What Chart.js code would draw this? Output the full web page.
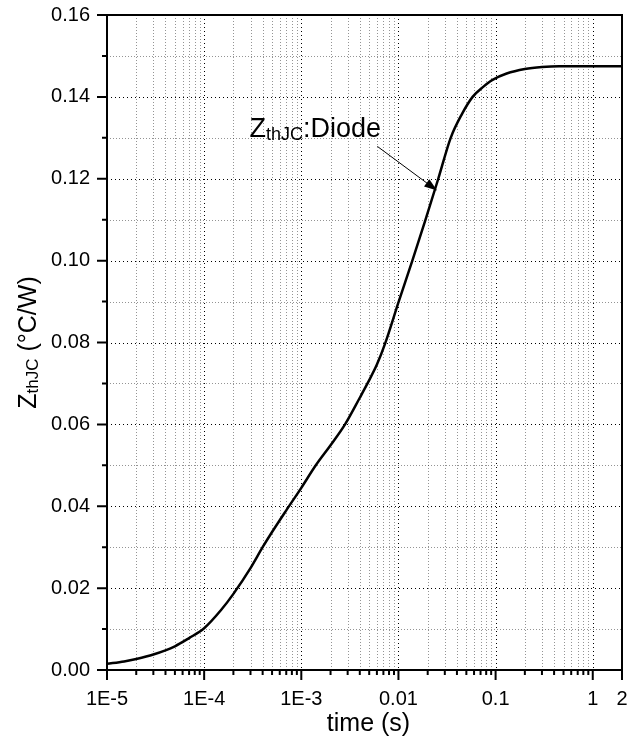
<!DOCTYPE html>
<html>
<head>
<meta charset="utf-8">
<script src="https://cdn.jsdelivr.net/npm/chart.js@4.4.1/dist/chart.umd.min.js"></script>
<style>
  html, body { margin: 0; padding: 0; background: #fff; }
  #wrap { width: 639px; height: 738px; }
</style>
</head>
<body>
<div id="wrap"><canvas id="zth-chart" width="639" height="738"></canvas></div>
<script>
// transient thermal impedance curve
const times = [1e-5, 1.5e-5, 2e-5, 3e-5, 5e-5, 7e-5, 1e-4, 1.5e-4, 2e-4, 3e-4, 4e-4, 5e-4, 7e-4,
  1e-3, 1.41e-3, 2e-3, 2.82e-3, 4e-3, 4.8e-3, 6e-3, 7.3e-3, 0.01, 0.0139, 0.019, 0.0257, 0.0345,
  0.045, 0.058, 0.075, 0.092, 0.13, 0.2, 0.3, 0.45, 1, 2];
const zthValues = [0.0015, 0.0021, 0.0027, 0.0038, 0.0058, 0.0078, 0.0102, 0.0147, 0.0186, 0.0249, 0.0300, 0.0337, 0.0390,
  0.0445, 0.0500, 0.0549, 0.0600, 0.0665, 0.0700, 0.0746, 0.0798, 0.0898, 0.1000, 0.1100, 0.1200, 0.1300,
  0.1358, 0.1400, 0.1425, 0.1441, 0.1457, 0.1468, 0.1473, 0.1475, 0.1475, 0.1475];

const xTickValues = [1e-5, 1e-4, 1e-3, 1e-2, 1e-1, 1, 2];
const xTickLabels = ['1E-5', '1E-4', '1E-3', '0.01', '0.1', '1', '2'];
const yTickValues = [0, 0.02, 0.04, 0.06, 0.08, 0.10, 0.12, 0.14, 0.16];
const yTickLabels = ['0.00', '0.02', '0.04', '0.06', '0.08', '0.10', '0.12', '0.14', '0.16'];
const yMinorValues = [0.01, 0.03, 0.05, 0.07, 0.09, 0.11, 0.13, 0.15];

// annotation: label anchor and arrow (data coordinates)
const noteLabelAt = [2.93e-4, 0.1303];
const noteArrowFrom = [6.07e-3, 0.1279];
const noteArrowTo = [0.025, 0.1171];

const xMinorValues = [];
for (let d = 1e-5; d < 1.5; d *= 10) {
  for (let k = 2; k <= 9; k++) {
    if (k * d < 2) xMinorValues.push(k * d);
  }
}

const FONT = '"Liberation Sans", Arial, sans-serif';

function drawRich(ctx, parts, x, y) {
  let cx = x;
  parts.forEach(p => {
    ctx.font = p.size + 'px ' + FONT;
    ctx.fillText(p.text, cx, y + (p.dy || 0));
    cx += ctx.measureText(p.text).width;
  });
  return cx - x;
}
function richWidth(ctx, parts) {
  let w = 0;
  parts.forEach(p => {
    ctx.font = p.size + 'px ' + FONT;
    w += ctx.measureText(p.text).width;
  });
  return w;
}

const frame = {
  id: 'frame',
  beforeDatasetsDraw(chart) {
    const { ctx, chartArea: a, scales: { x, y } } = chart;
    ctx.save();
    ctx.lineWidth = 1;
    // minor grid
    ctx.strokeStyle = 'rgba(0,0,0,0.42)';
    ctx.setLineDash([1, 2]);
    xMinorValues.forEach(v => {
      const px = Math.round(x.getPixelForValue(v)) + 0.5;
      ctx.beginPath(); ctx.moveTo(px, a.top); ctx.lineTo(px, a.bottom); ctx.stroke();
    });
    yMinorValues.forEach(v => {
      const py = Math.round(y.getPixelForValue(v)) + 0.5;
      ctx.beginPath(); ctx.moveTo(a.left, py); ctx.lineTo(a.right, py); ctx.stroke();
    });
    // major grid
    ctx.strokeStyle = '#000';
    ctx.setLineDash([1, 3]);
    xTickValues.slice(1, -1).forEach(v => {
      const px = Math.round(x.getPixelForValue(v)) + 0.5;
      ctx.beginPath(); ctx.moveTo(px, a.top); ctx.lineTo(px, a.bottom); ctx.stroke();
    });
    yTickValues.slice(1, -1).forEach(v => {
      const py = Math.round(y.getPixelForValue(v)) + 0.5;
      ctx.beginPath(); ctx.moveTo(a.left, py); ctx.lineTo(a.right, py); ctx.stroke();
    });
    ctx.restore();
  },
  afterDatasetsDraw(chart) {
    const { ctx, chartArea: a, scales: { x, y } } = chart;
    ctx.save();
    ctx.strokeStyle = '#000';
    ctx.lineWidth = 2;
    ctx.strokeRect(a.left, a.top, a.right - a.left, a.bottom - a.top);
    // outward ticks
    ctx.beginPath();
    xTickValues.forEach(v => {
      const px = x.getPixelForValue(v);
      ctx.moveTo(px, a.bottom); ctx.lineTo(px, a.bottom + 10);
    });
    xMinorValues.forEach(v => {
      const px = x.getPixelForValue(v);
      ctx.moveTo(px, a.bottom); ctx.lineTo(px, a.bottom + 5);
    });
    yTickValues.forEach(v => {
      const py = y.getPixelForValue(v);
      ctx.moveTo(a.left, py); ctx.lineTo(a.left - 10, py);
    });
    yMinorValues.forEach(v => {
      const py = y.getPixelForValue(v);
      ctx.moveTo(a.left, py); ctx.lineTo(a.left - 5, py);
    });
    ctx.stroke();

    // annotation arrow
    const x0 = x.getPixelForValue(noteArrowFrom[0]), y0 = y.getPixelForValue(noteArrowFrom[1]);
    const x1 = x.getPixelForValue(noteArrowTo[0]), y1 = y.getPixelForValue(noteArrowTo[1]);
    const ang = Math.atan2(y1 - y0, x1 - x0);
    ctx.lineWidth = 1;
    ctx.beginPath(); ctx.moveTo(x0, y0);
    ctx.lineTo(x1 - 10 * Math.cos(ang), y1 - 10 * Math.sin(ang)); ctx.stroke();
    ctx.fillStyle = '#000';
    ctx.beginPath();
    ctx.moveTo(x1, y1);
    ctx.lineTo(x1 - 13 * Math.cos(ang) + 4.5 * Math.sin(ang), y1 - 13 * Math.sin(ang) - 4.5 * Math.cos(ang));
    ctx.lineTo(x1 - 13 * Math.cos(ang) - 4.5 * Math.sin(ang), y1 - 13 * Math.sin(ang) + 4.5 * Math.cos(ang));
    ctx.closePath(); ctx.fill();

    // annotation label
    ctx.textBaseline = 'alphabetic';
    ctx.textAlign = 'left';
    drawRich(ctx, [
      { text: 'Z', size: 27 },
      { text: 'thJC', size: 18, dy: 3 },
      { text: ':Diode', size: 27 }
    ], x.getPixelForValue(noteLabelAt[0]), y.getPixelForValue(noteLabelAt[1]));

    // axis titles
    const xt = [{ text: 'time (s)', size: 25 }];
    drawRich(ctx, xt, (a.left + a.right) / 2 - richWidth(ctx, xt) / 2 + 4, 731);

    const yt = [
      { text: 'Z', size: 25 },
      { text: 'thJC', size: 17, dy: 2 },
      { text: ' (\u00B0C/W)', size: 25 }
    ];
    ctx.translate(36, (a.top + a.bottom) / 2);
    ctx.rotate(-Math.PI / 2);
    drawRich(ctx, yt, -richWidth(ctx, yt) / 2, 0);
    ctx.restore();
  }
};

new Chart(document.getElementById('zth-chart'), {
  type: 'line',
  data: {
    datasets: [{
      label: 'ZthJC:Diode',
      data: times.map((t, i) => ({ x: t, y: zthValues[i] })),
      borderColor: '#000',
      borderWidth: 2.5,
      pointRadius: 0,
      cubicInterpolationMode: 'monotone',
      fill: false
    }]
  },
  options: {
    responsive: false,
    animation: false,
    layout: { padding: { left: 0, right: 17, top: 15, bottom: 0 } },
    plugins: { legend: { display: false }, tooltip: { enabled: false } },
    scales: {
      x: {
        type: 'logarithmic',
        min: 1e-5,
        max: 2,
        afterBuildTicks: s => { s.ticks = xTickValues.map(v => ({ value: v, major: true })); },
        afterFit: s => { s.height = 68; s.paddingLeft = 0; s.paddingRight = 0; },
        grid: { display: false, drawTicks: false },
        border: { display: false },
        ticks: {
          autoSkip: false,
          maxRotation: 0,
          padding: 17,
          color: '#000',
          font: { family: FONT, size: 20 },
          callback: (v, i) => xTickLabels[i]
        }
      },
      y: {
        min: 0,
        max: 0.16,
        afterBuildTicks: s => { s.ticks = yTickValues.map(v => ({ value: v })); },
        afterFit: s => { s.width = 107; s.paddingTop = 0; s.paddingBottom = 0; },
        grid: { display: false, drawTicks: false },
        border: { display: false },
        ticks: {
          padding: 17,
          color: '#000',
          font: { family: FONT, size: 20 },
          callback: (v, i) => yTickLabels[i]
        }
      }
    }
  },
  plugins: [frame]
});
</script>
</body>
</html>
